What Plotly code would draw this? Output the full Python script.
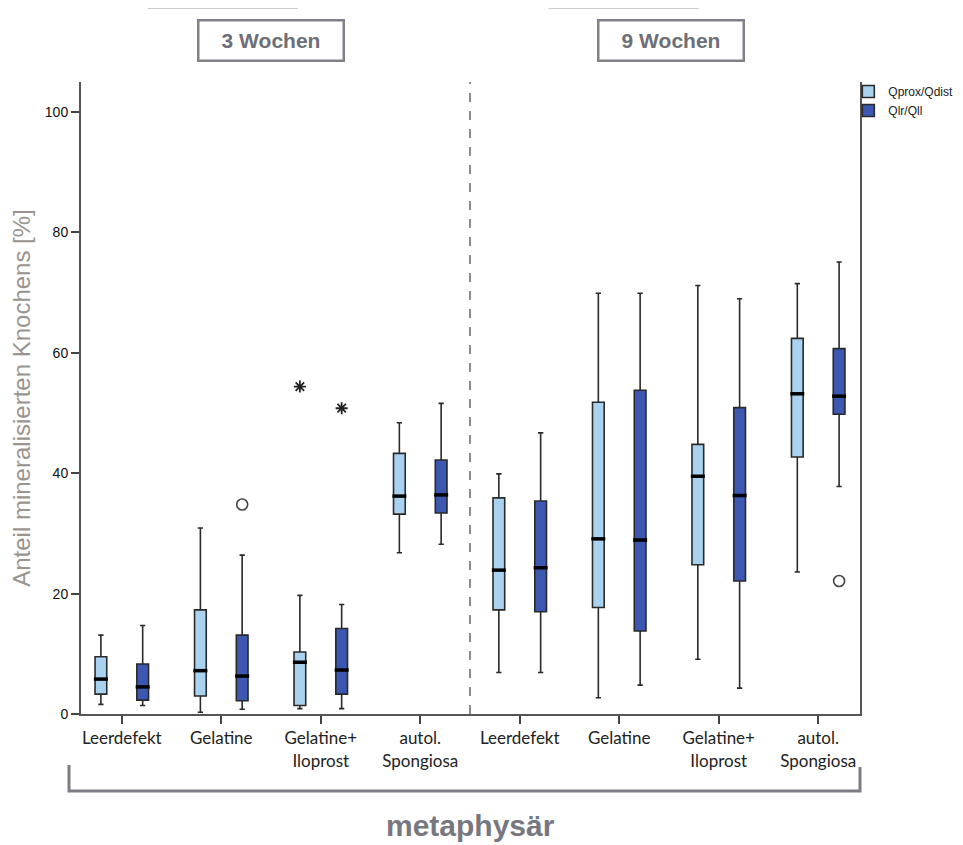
import plotly.graph_objects as go

# ---- data ----
tick_labels = ["Leerdefekt", "Gelatine", "Gelatine+<br>Iloprost", "autol.<br>Spongiosa",
               "Leerdefekt", "Gelatine", "Gelatine+<br>Iloprost", "autol.<br>Spongiosa"]
cat_pos = [1, 2, 3, 4, 5, 6, 7, 8]

prox_lower = [1.6, 0.3, 0.9, 26.8, 6.9, 2.7, 9.1, 23.6]
prox_q1 = [3.3, 3.0, 1.4, 33.2, 17.3, 17.7, 24.8, 42.7]
prox_median = [5.8, 7.2, 8.6, 36.2, 23.9, 29.1, 39.5, 53.2]
prox_q3 = [9.5, 17.3, 10.3, 43.3, 35.9, 51.8, 44.8, 62.4]
prox_upper = [13.1, 30.9, 19.7, 48.4, 39.9, 69.9, 71.2, 71.5]

lr_lower = [1.4, 0.8, 0.9, 28.2, 6.9, 4.8, 4.3, 37.8]
lr_q1 = [2.3, 2.2, 3.3, 33.4, 17.0, 13.8, 22.1, 49.8]
lr_median = [4.5, 6.3, 7.3, 36.4, 24.3, 28.9, 36.3, 52.8]
lr_q3 = [8.3, 13.1, 14.2, 42.2, 35.4, 53.8, 50.9, 60.7]
lr_upper = [14.7, 26.4, 18.2, 51.6, 46.7, 69.9, 69.0, 75.1]

# outliers: (category index, value)
prox_out_circle = []
prox_out_star = [(2, 54.4)]
lr_out_circle = [(1, 34.8), (7, 22.1)]
lr_out_star = [(2, 50.8)]

series_names = ["Qprox/Qdist", "Qlr/Qll"]
light = "#a9d2f0"
dark = "#3c58b2"
outline = "#2a2a2a"

BOXGAP = 0.16
GROUPGAP = 0.72
offset = (1 - BOXGAP) / 4

fig = go.Figure()

series = [
    (series_names[0], light, prox_lower, prox_q1, prox_median, prox_q3, prox_upper,
     prox_out_circle, prox_out_star, -offset),
    (series_names[1], dark, lr_lower, lr_q1, lr_median, lr_q3, lr_upper,
     lr_out_circle, lr_out_star, offset),
]

for name, col, lo, q1, med, q3, up, oc, os_, off in series:
    fig.add_trace(go.Box(
        name=name, x=cat_pos, q1=q1, median=med, q3=q3,
        lowerfence=lo, upperfence=up,
        fillcolor=col, line=dict(color=outline, width=1.6),
        whiskerwidth=0.45, boxpoints=False, showlegend=True,
    ))

for name, col, lo, q1, med, q3, up, oc, os_, off in series:
    fig.add_trace(go.Scatter(
        x=[p + off for p in cat_pos], y=med, mode="markers",
        marker=dict(symbol="line-ew", size=10, line=dict(color="black", width=3.5)),
        showlegend=False, hoverinfo="skip",
    ))
    if oc:
        fig.add_trace(go.Scatter(
            x=[cat_pos[i] + off for i, v in oc], y=[v for i, v in oc], mode="markers",
            marker=dict(symbol="circle-open", size=11, color="#444", line=dict(width=1.6)),
            showlegend=False,
        ))
    if os_:
        fig.add_trace(go.Scatter(
            x=[cat_pos[i] + off for i, v in os_], y=[v for i, v in os_], mode="markers",
            marker=dict(symbol="asterisk-open", size=10, color="#222", line=dict(width=1.8)),
            showlegend=False,
        ))

# the page has an 8px body margin, so the figure is 8px smaller than the window
fig.update_layout(
    width=955, height=837,
    margin=dict(l=73, r=103, t=74, b=131, autoexpand=False),
    paper_bgcolor="white", plot_bgcolor="white",
    boxmode="group", boxgap=BOXGAP, boxgroupgap=GROUPGAP,
    showlegend=True,
    legend=dict(x=0.985, y=1.008, xanchor="left", yanchor="top",
                font=dict(family="Liberation Sans, Arial, sans-serif", size=12, color="#222"),
                bgcolor="rgba(0,0,0,0)", tracegroupgap=0, itemwidth=30),
    font=dict(family="Liberation Sans, Arial, sans-serif"),
)

fig.update_xaxes(
    range=[0.59, 8.42], tickvals=cat_pos, ticktext=tick_labels,
    showline=True, linecolor="#555", linewidth=2,
    ticks="outside", ticklen=8, tickwidth=2, tickcolor="#444",
    showgrid=False, zeroline=False, automargin=False,
    tickfont=dict(family="Lato, Open Sans, sans-serif", size=17, color="#222"),
)
fig.update_yaxes(
    range=[0, 105], tickvals=[0, 20, 40, 60, 80, 100],
    showline=True, mirror=True, linecolor="#555", linewidth=2,
    ticks="outside", ticklen=8, tickwidth=2, tickcolor="#444",
    showgrid=False, zeroline=False, automargin=False,
    tickfont=dict(family="Liberation Sans, Arial, sans-serif", size=14, color="#111"),
    title=dict(text="Anteil mineralisierten Knochens [%]", standoff=10,
               font=dict(family="Liberation Sans, Arial, sans-serif", size=24, color="#9a948f")),
)

# dashed separator between the periods
fig.add_shape(type="line", xref="x", yref="paper", x0=4.5, x1=4.5, y0=0, y1=1,
              line=dict(color="#8a8a92", width=2, dash="dash"))

# period headers
for xc, txt, l0, l1 in [(2.5, "3 Wochen", 1.26, 2.77), (6.52, "9 Wochen", 5.29, 6.80)]:
    fig.add_annotation(x=xc, xref="x", y=1.065, yref="paper", yanchor="middle",
                       text="<b>%s</b>" % txt,
                       showarrow=False, width=143, height=38,
                       bordercolor="#808088", borderwidth=2.5, borderpad=0,
                       font=dict(family="Liberation Sans Narrow, Arial Narrow, sans-serif",
                                 size=21, color="#6e6e76"))
    fig.add_shape(type="line", xref="x", yref="paper", x0=l0, x1=l1, y0=1.117, y1=1.117,
                  line=dict(color="#a0a0a8", width=1))

# bottom bracket
fig.add_shape(type="path", xref="paper", yref="paper",
              path="M -0.0154 -0.0807 L -0.0154 -0.1218 L 1.0 -0.1218 L 1.0 -0.0840",
              line=dict(color="#7c7c84", width=3))
fig.add_annotation(x=0.5, xref="paper", y=-0.176, yref="paper", yanchor="middle",
                   text="<b>metaphysär</b>", showarrow=False,
                   font=dict(family="Liberation Sans, Arial, sans-serif", size=30, color="#77777f"))

fig.write_html("out.html")
